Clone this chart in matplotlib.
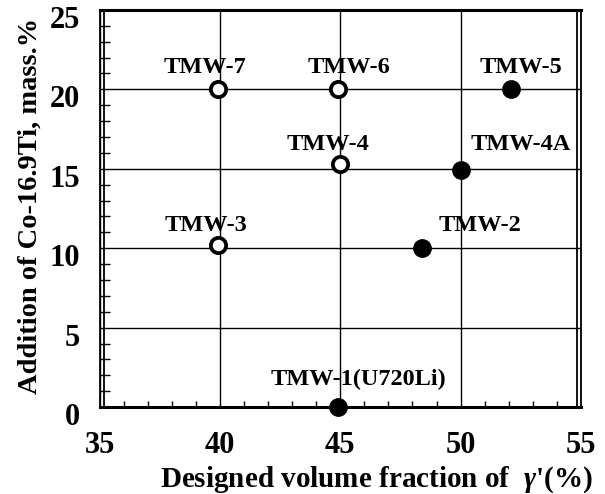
import matplotlib
matplotlib.use("Agg")
from matplotlib import pyplot as plt
from matplotlib.ticker import MultipleLocator
from matplotlib.transforms import ScaledTranslation

# data
names = ['TMW-1(U720Li)', 'TMW-2', 'TMW-3', 'TMW-4', 'TMW-4A', 'TMW-5', 'TMW-6', 'TMW-7']
gamma_frac = [44.9, 48.4, 39.9, 45.0, 50.0, 52.1, 44.9, 39.9]
co_ti_add = [0.0, 10.0, 10.2, 15.3, 14.9, 20.0, 20.0, 20.0]
is_open = [False, False, True, True, False, False, True, True]
label_xy = [(45.75, 1.75), (50.8, 11.45), (39.43, 11.45), (44.48, 16.55),
            (52.5, 16.55), (52.5, 21.4), (45.35, 21.4), (39.38, 21.4)]

plt.rcParams['font.family'] = ['Liberation Serif', 'DejaVu Serif']
plt.rcParams['font.weight'] = 'bold'
plt.rcParams['mathtext.fontset'] = 'custom'
plt.rcParams['mathtext.rm'] = 'Liberation Serif:bold'
plt.rcParams['mathtext.it'] = 'Liberation Serif:italic:bold'

fig = plt.figure(figsize=(6.05, 4.94), dpi=100)
ax = fig.add_axes([0.165, 0.176, 0.795, 0.804])

for x, y, o in zip(gamma_frac, co_ti_add, is_open):
    if o:
        ax.plot(x, y, 'o', ms=11, mfc='white', mec='black', mew=2.7, zorder=5)
    else:
        ax.plot(x, y, 'o', ms=12.5, mfc='black', mec='black', zorder=5, clip_on=False)

for name, (lx, ly) in zip(names, label_xy):
    ax.text(lx, ly, name, ha='center', va='center', fontsize=17.5, fontweight='bold')

ax.set_xlim(35, 55)
ax.set_ylim(0, 25)
ax.xaxis.set_major_locator(MultipleLocator(5))
ax.yaxis.set_major_locator(MultipleLocator(5))
ax.xaxis.set_minor_locator(MultipleLocator(1))
ax.yaxis.set_minor_locator(MultipleLocator(1))
ax.grid(True, which='major', color='black', linewidth=1)
ax.tick_params(which='major', direction='in', length=0, labelsize=22, pad=17)
ax.tick_params(axis='y', which='major', pad=14)
ax.tick_params(which='minor', direction='in', length=4, width=1, top=False, right=False)
ax.tick_params(axis='y', which='minor', length=7)

# frame: thick top/bottom, double thin lines left/right
ax.spines['top'].set_linewidth(2.2)
ax.spines['bottom'].set_linewidth(2.2)
ax.spines['left'].set_linewidth(1.3)
ax.spines['right'].set_linewidth(1.3)
for xa, dx in [(0, 4), (1, -4)]:
    tr = ax.transAxes + ScaledTranslation(dx / 100, 0, fig.dpi_scale_trans)
    ax.plot([xa, xa], [0, 1], color='black', lw=1.3, transform=tr, clip_on=False, zorder=6)

# y tick labels sit a little below their ticks in the original
shift = ScaledTranslation(0, -5 / 72, fig.dpi_scale_trans)
for lab in ax.get_yticklabels():
    lab.set_transform(lab.get_transform() + shift)

ax.set_xlabel("Designed volume fraction of  $\\gamma$'(%)", fontsize=21, fontweight='bold',
              labelpad=0)
ax.xaxis.set_label_coords(0.575, -0.145)
ax.set_ylabel('Addition of Co-16.9Ti, mass.%', fontsize=20.5, fontweight='bold')
ax.yaxis.set_label_coords(-0.118, 0.506)

fig.savefig('out.png', dpi=100)
